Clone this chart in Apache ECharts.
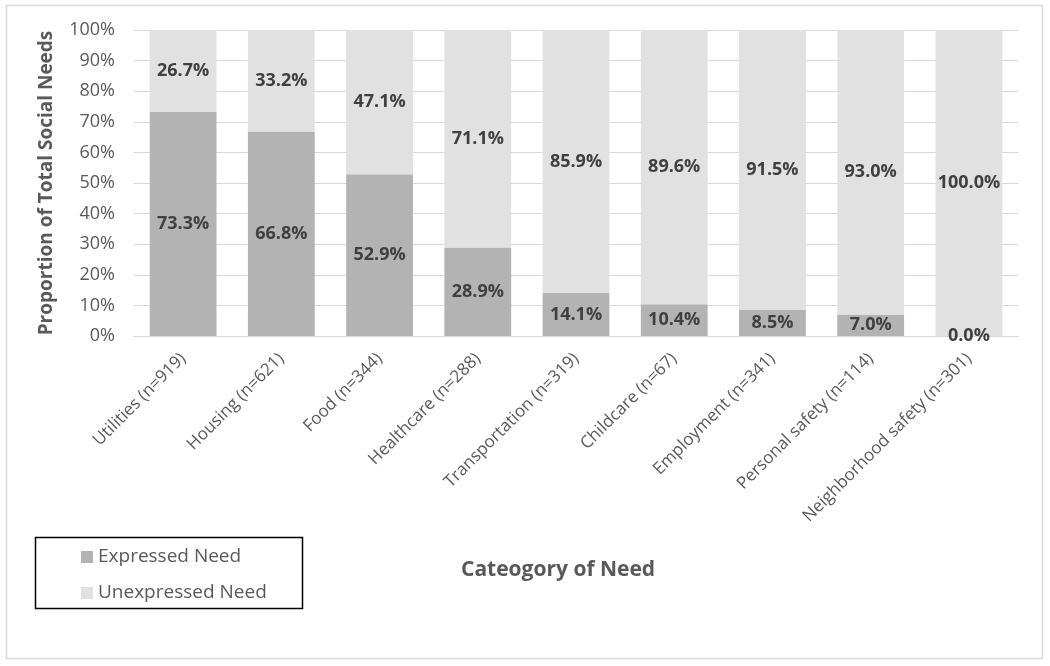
<!DOCTYPE html>
<html>
<head>
<meta charset="utf-8">
<script src="https://cdn.jsdelivr.net/npm/echarts@6/dist/echarts.min.js"></script>
<style>html,body{margin:0;padding:0;background:#fff}#c{width:1050px;height:666px}</style>
</head>
<body>
<div id="c"></div>
<script>
var categories = ['Utilities (n=919)','Housing (n=621)','Food (n=344)','Healthcare (n=288)','Transportation (n=319)','Childcare (n=67)','Employment (n=341)','Personal safety (n=114)','Neighborhood safety (n=301)'];
var expressed = [73.3, 66.8, 52.9, 28.9, 14.1, 10.4, 8.5, 7.0, 0.0];
var unexpressed = [26.7, 33.2, 47.1, 71.1, 85.9, 89.6, 91.5, 93.0, 100.0];
var yTicks = [0,10,20,30,40,50,60,70,80,90,100];

var FONT = 'Open Sans';
var chart = echarts.init(document.getElementById('c'), null, {renderer:'canvas'});
var labelStyle = {show:true, position:'inside', formatter:function(p){return p.value.toFixed(1)+'%';}, color:'#404040', fontFamily:FONT, fontWeight:'bold', fontSize:18};
chart.setOption({
  animation:false,
  backgroundColor:'#fff',
  graphic:[
    {type:'rect', shape:{x:6.5,y:5.5,width:1036,height:653}, style:{fill:'none', stroke:'#d9d9d9', lineWidth:1.5}, silent:true, z:-1},
    {type:'rect', shape:{x:35.5,y:537.5,width:267,height:71}, style:{fill:'none', stroke:'#000', lineWidth:1.5}, silent:true},
    {type:'text', left:461, top:560, style:{text:'Cateogory of Need', fill:'#595959', font:'bold 21px "Open Sans"'}, silent:true}
  ],
  legend:{
    orient:'vertical', left:76, top:539, itemWidth:12, itemHeight:12, itemGap:10, icon:'rect',
    textStyle:{color:'#595959', fontFamily:FONT, fontSize:19, lineHeight:26},
    data:['Expressed Need','Unexpressed Need']
  },
  grid:{left:134, right:32, top:30, bottom:330, containLabel:false},
  xAxis:{
    type:'category', data:categories,
    axisLine:{show:true, lineStyle:{color:'#d9d9d9', width:1}},
    axisTick:{show:false},
    axisLabel:{interval:0, rotate:45, color:'#595959', fontFamily:FONT, fontSize:17, margin:20}
  },
  yAxis:{
    type:'value', min:0, max:100, interval:10,
    name:'Proportion of Total Social Needs', nameLocation:'middle', nameGap:78, nameRotate:90,
    nameTextStyle:{color:'#595959', fontFamily:FONT, fontWeight:'bold', fontSize:19},
    axisLine:{show:false}, axisTick:{show:false},
    axisLabel:{color:'#595959', fontFamily:FONT, fontSize:18, margin:19, formatter:function(v){return yTicks.indexOf(v)>=0 ? v+'%' : '';}},
    splitLine:{show:true, lineStyle:{color:'#d9d9d9', width:1}}
  },
  series:[
    {name:'Expressed Need', type:'bar', stack:'a', data:expressed, barCategoryGap:'32%', itemStyle:{color:'#b3b3b3'}, label:labelStyle},
    {name:'Unexpressed Need', type:'bar', stack:'a', data:unexpressed, itemStyle:{color:'#e1e1e1'}, label:labelStyle}
  ]
});
</script>
</body>
</html>
